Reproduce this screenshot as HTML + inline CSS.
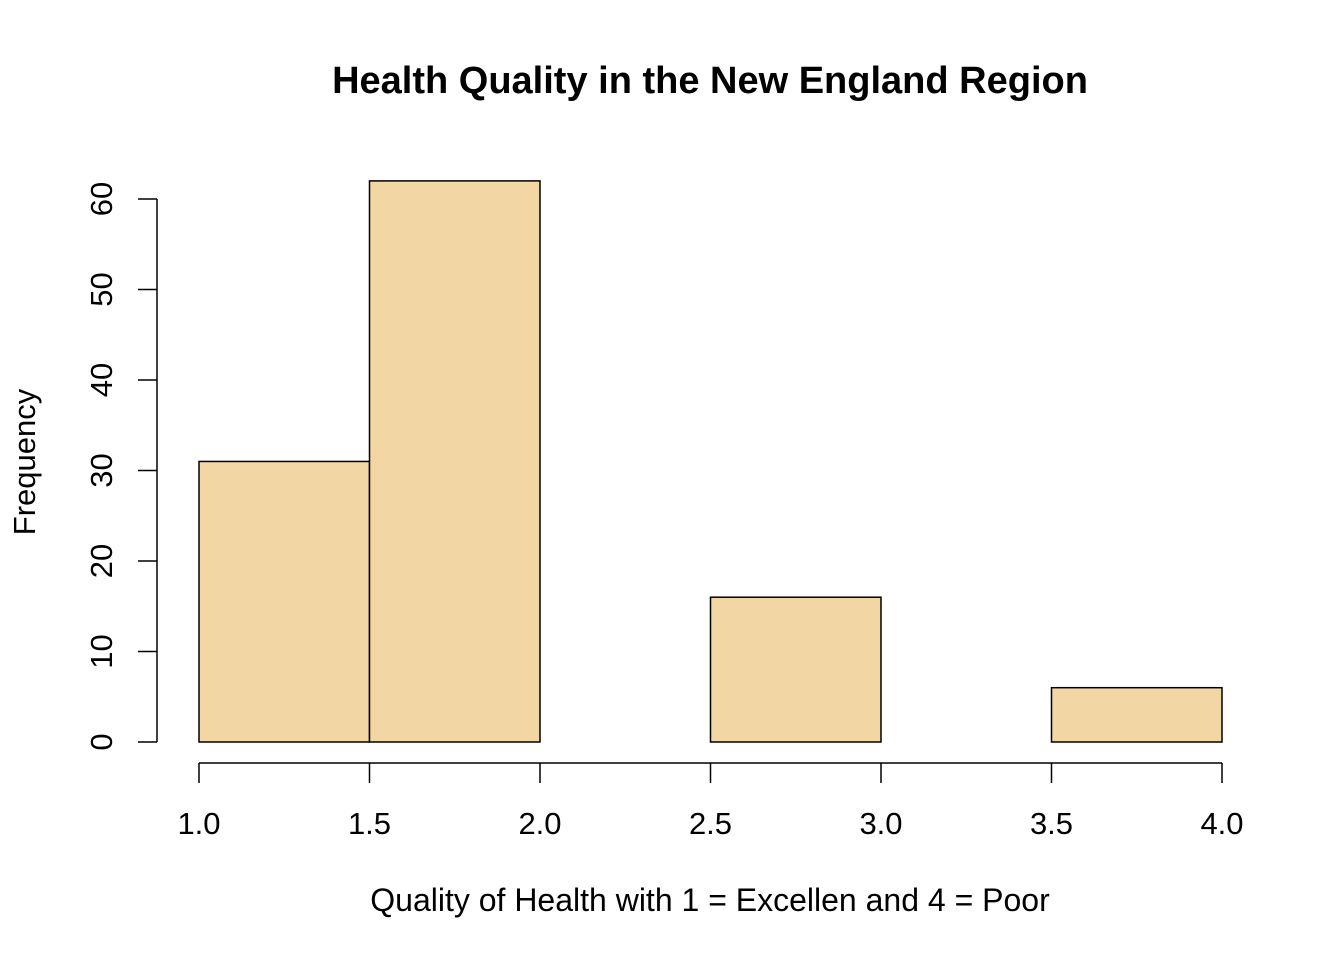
<!DOCTYPE html>
<html><head><meta charset="utf-8"><style>
html,body{margin:0;padding:0;background:#fff;}
svg text{font-family:"Liberation Sans",Arial,sans-serif;fill:#000;}
</style></head><body>
<svg id="chart" width="1344" height="960" xmlns="http://www.w3.org/2000/svg">
<text x="710" y="93" font-size="38" font-weight="bold" text-anchor="middle">Health Quality in the New England Region</text>
<text x="710" y="911" font-size="32" text-anchor="middle">Quality of Health with 1 = Excellen and 4 = Poor</text>
<text transform="translate(35,462) rotate(-90)" font-size="31" text-anchor="middle">Frequency</text>
<g id="bars"></g><g id="xaxis"></g><g id="yaxis"></g>
</svg>
<script>
const binStarts=[1.0,1.5,2.0,2.5,3.0,3.5];
const binWidth=0.5;
const counts=[31,62,0,16,0,6];
const xTicks=["1.0","1.5","2.0","2.5","3.0","3.5","4.0"];
const yTicks=[0,10,20,30,40,50,60];
const NS="http://www.w3.org/2000/svg";
function X(v){return 199+(v-1)*(1222-199)/3;}
function Y(v){return 742-v*(742-199)/60;}
function mk(t,a,p){const e=document.createElementNS(NS,t);for(const k in a)e.setAttribute(k,a[k]);p.appendChild(e);return e;}
const bars=document.getElementById('bars');
binStarts.forEach((s,i)=>{
  const x0=X(s),x1=X(s+binWidth),y=Y(counts[i]);
  const r=mk('rect',{x:x0,y:y,width:x1-x0,height:742-y,fill:'#F2D7A5',stroke:'#000','stroke-width':1.5},bars);
  
  
});
const xa=document.getElementById('xaxis');


mk('line',{x1:X(1),x2:X(4),y1:763,y2:763,stroke:'#000','stroke-width':1.5},xa);
xTicks.forEach(t=>{
  const x=X(parseFloat(t));
  mk('line',{x1:x,x2:x,y1:763,y2:783,stroke:'#000','stroke-width':1.5},xa);
  const tx=mk('text',{x:x,y:834,'font-size':31,'text-anchor':'middle'},xa);tx.textContent=t;
  
  
});
const ya=document.getElementById('yaxis');


mk('line',{x1:157,x2:157,y1:Y(0),y2:Y(60),stroke:'#000','stroke-width':1.5},ya);
yTicks.forEach(v=>{
  const y=Y(v);
  mk('line',{x1:138,x2:157,y1:y,y2:y,stroke:'#000','stroke-width':1.5},ya);
  const tx=mk('text',{transform:'translate(112,'+y+') rotate(-90)','font-size':31,'text-anchor':'middle'},ya);tx.textContent=v;
  
  
});
</script>
</body></html>
